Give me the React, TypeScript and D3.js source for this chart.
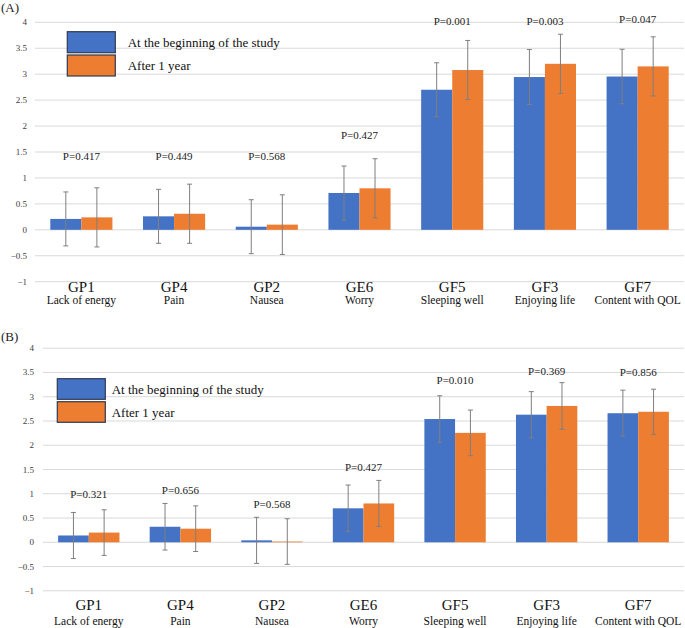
import * as d3 from "d3";

const categories = ["GP1", "GP4", "GP2", "GE6", "GF5", "GF3", "GF7"];
const descriptions = ["Lack of energy", "Pain", "Nausea", "Worry", "Sleeping well", "Enjoying life", "Content with QOL"];
const seriesNames = ["At the beginning of the study", "After 1 year"];
const yTicks = [-1, -0.5, 0, 0.5, 1, 1.5, 2, 2.5, 3, 3.5, 4];

// (A)
const baselineA = [0.21, 0.26, 0.06, 0.71, 2.7, 2.945, 2.955];
const baselineSdA = [0.52, 0.52, 0.52, 0.52, 0.52, 0.53, 0.525];
const oneYearA = [0.24, 0.31, 0.1, 0.8, 3.08, 3.2, 3.15];
const oneYearSdA = [0.57, 0.57, 0.575, 0.57, 0.57, 0.57, 0.57];
const pValuesA = ["P=0.417", "P=0.449", "P=0.568", "P=0.427", "P=0.001", "P=0.003", "P=0.047"];

// (B)
const baselineB = [0.14, 0.32, 0.04, 0.7, 2.54, 2.63, 2.66];
const baselineSdB = [0.475, 0.48, 0.475, 0.48, 0.48, 0.475, 0.475];
const oneYearB = [0.2, 0.28, 0.015, 0.8, 2.255, 2.81, 2.69];
const oneYearSdB = [0.47, 0.47, 0.47, 0.475, 0.47, 0.48, 0.465];
const pValuesB = ["P=0.321", "P=0.656", "P=0.568", "P=0.427", "P=0.010", "P=0.369", "P=0.856"];

const colors = ["#4472C4", "#ED7D31"];
const font = "'Liberation Serif', 'Times New Roman', serif";

type Panel = {
  label: string;
  means: number[][];
  sds: number[][];
  pValues: string[];
  pAt: number[]; // height of the p-value text, in axis units
  top: number;
  bottom: number;
  left: number;
  tickX: number;
  catDy: number;
  descDy: number;
  labelY: number;
  legend: { x: number; y: number; h: number; gap: number; textX: number };
};

const panels: Panel[] = [
  {
    label: "(A)",
    means: [baselineA, oneYearA],
    sds: [baselineSdA, oneYearSdA],
    pValues: pValuesA,
    pAt: [1.43, 1.43, 1.43, 1.82, 4.03, 4.03, 4.07],
    top: 22.3,
    bottom: 281.7,
    left: 35,
    tickX: 27,
    catDy: 5,
    descDy: 18.5,
    labelY: 7.5,
    legend: { x: 67.3, y: 31.7, h: 21, gap: 2.3, textX: 127.7 },
  },
  {
    label: "(B)",
    means: [baselineB, oneYearB],
    sds: [baselineSdB, oneYearSdB],
    pValues: pValuesB,
    pAt: [1.0, 1.07, 0.78, 1.55, 3.34, 3.52, 3.5],
    top: 348.2,
    bottom: 590.8,
    left: 43,
    tickX: 34,
    catDy: 14,
    descDy: 29.7,
    labelY: 336.7,
    legend: { x: 57.3, y: 378.7, h: 20.6, gap: 2.4, textX: 111.7 },
  },
];

function ChartPanel({ p }: { p: Panel }) {
  const right = 684;
  const y = d3.scaleLinear().domain([-1, 4]).range([p.bottom, p.top]);
  const x = d3.scaleBand<string>().domain(categories).range([p.left, right]).paddingInner(0.33).paddingOuter(0.165);
  const sub = d3.scaleBand<number>().domain([0, 1]).range([0, x.bandwidth()]);
  const fmt = d3.format("");

  return (
    <g style={{ fontFamily: font }}>
      <text x={1} y={p.labelY} dominantBaseline="central" fontSize={13} fill="#222">
        {p.label}
      </text>
      {yTicks.map((t) => (
        <g key={t}>
          <line x1={p.left} x2={right} y1={y(t)} y2={y(t)} stroke="#d9d9d9" strokeWidth={1} />
          <text x={p.tickX} y={y(t)} textAnchor="end" dominantBaseline="central" fontSize={9} fill="#404040">
            {fmt(t)}
          </text>
        </g>
      ))}
      {p.means.map((vals, s) =>
        vals.map((v, i) => {
          const bx = (x(categories[i]) ?? 0) + (sub(s) ?? 0);
          const bw = sub.bandwidth();
          const cx = bx + bw / 2;
          const sd = p.sds[s][i];
          return (
            <g key={`${s}-${i}`}>
              <rect x={bx} y={y(Math.max(v, 0))} width={bw} height={Math.abs(y(v) - y(0))} fill={colors[s]} />
              <line x1={cx} x2={cx} y1={y(v + sd)} y2={y(v - sd)} stroke="#7f7f7f" strokeWidth={1} />
              <line x1={cx - 2.5} x2={cx + 2.5} y1={y(v + sd)} y2={y(v + sd)} stroke="#7f7f7f" strokeWidth={1} />
              <line x1={cx - 2.5} x2={cx + 2.5} y1={y(v - sd)} y2={y(v - sd)} stroke="#7f7f7f" strokeWidth={1} />
            </g>
          );
        })
      )}
      {categories.map((c, i) => {
        const cx = (x(c) ?? 0) + x.bandwidth() / 2;
        return (
          <g key={c}>
            <text x={cx} y={y(p.pAt[i])} textAnchor="middle" dominantBaseline="central" fontSize={11} fill="#222">
              {p.pValues[i]}
            </text>
            <text x={cx} y={p.bottom + p.catDy} textAnchor="middle" dominantBaseline="central" fontSize={15} fill="#111">
              {c}
            </text>
            <text x={cx} y={p.bottom + p.descDy} textAnchor="middle" dominantBaseline="central" fontSize={11.5} fill="#111">
              {descriptions[i]}
            </text>
          </g>
        );
      })}
      {seriesNames.map((name, s) => {
        const ly = p.legend.y + s * (p.legend.h + p.legend.gap);
        return (
          <g key={name}>
            <rect x={p.legend.x} y={ly} width={48} height={p.legend.h} fill={colors[s]} stroke="#2f3b52" strokeWidth={1.2} />
            <text x={p.legend.textX} y={ly + p.legend.h / 2} dominantBaseline="central" fontSize={13} fill="#111">
              {name}
            </text>
          </g>
        );
      })}
    </g>
  );
}

export default function App() {
  return (
    <svg width={685} height={628} style={{ position: "absolute", left: 0, top: 0, background: "#fff" }}>
      {panels.map((p) => (
        <ChartPanel key={p.label} p={p} />
      ))}
    </svg>
  );
}
